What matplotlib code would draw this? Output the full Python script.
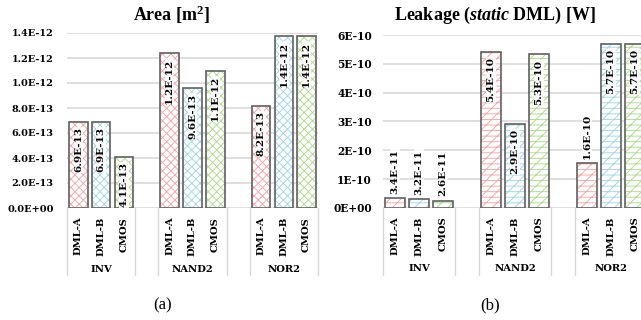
import numpy as np
import matplotlib
matplotlib.use("Agg")
import matplotlib.pyplot as plt
import matplotlib.transforms as mtransforms

# data
groups = ["INV", "NAND2", "NOR2"]
designs = ["DML-A", "DML-B", "CMOS"]
area = [[0.69e-12, 0.69e-12, 0.41e-12],
        [1.24e-12, 0.96e-12, 1.10e-12],
        [0.82e-12, 1.376e-12, 1.376e-12]]
leak = [[0.34e-10, 0.32e-10, 0.26e-10],
        [5.42e-10, 2.92e-10, 5.33e-10],
        [1.56e-10, 5.70e-10, 5.70e-10]]
area_ticks = [0, 0.2e-12, 0.4e-12, 0.6e-12, 0.8e-12, 1.0e-12, 1.2e-12, 1.4e-12]
leak_ticks = [0, 1e-10, 2e-10, 3e-10, 4e-10, 5e-10, 6e-10]

hatch_cols = ["#f7abab", "#a6d8ec", "#b2de93"]
edge_col = "#606060"
grid_col = "#d9d9d9"
plt.rcParams["hatch.linewidth"] = 0.7
plt.rcParams["mathtext.fontset"] = "custom"
plt.rcParams["mathtext.rm"] = "Liberation Serif"
plt.rcParams["mathtext.bf"] = "Liberation Serif:bold"
plt.rcParams["mathtext.it"] = "Liberation Serif:italic"
plt.rcParams["mathtext.bfit"] = "Liberation Serif:italic:bold"

fig = plt.figure(figsize=(6.41, 3.2), dpi=100)


def draw(rect, vals, ticks, tfmt, lfmt, hatch, tick_fs, pad):
    ax = fig.add_axes(rect)
    ymax = ticks[-1]
    for t in ticks:
        ax.axhline(t, color=grid_col, lw=1.2, zorder=0)
    for g in range(3):
        for d in range(3):
            x = g * 4 + d
            v = vals[g][d]
            ax.bar(x, v, width=0.81, color="white", edgecolor=hatch_cols[d],
                   hatch=hatch, linewidth=0, zorder=2)
            ax.bar(x, v, width=0.81, fill=False, edgecolor=edge_col,
                   linewidth=1.2, zorder=3)
            if v / ymax > 0.28:
                off, va = -4, "top"
            else:
                off, va = 3, "bottom"
            ax.annotate(lfmt % v, (x, v), xytext=(0, off), textcoords="offset points",
                        rotation=90, ha="center", va=va, fontsize=7.5,
                        family="DejaVu Serif", weight="bold", zorder=4,
                        bbox=dict(fc="white", ec="none", pad=0.2, alpha=0.85))
    ax.set_xlim(-0.5, 10.5)
    ax.set_ylim(0, ymax)
    ax.set_yticks(ticks)
    ax.set_yticklabels([tfmt % t for t in ticks], family="DejaVu Serif",
                       weight="bold", fontsize=tick_fs)
    ax.tick_params(axis="y", length=0, pad=pad)
    ax.set_xticks([])
    for s in ax.spines.values():
        s.set_visible(False)
    trans = mtransforms.blended_transform_factory(ax.transData, ax.transAxes)
    for xs in [-0.5, 2.5, 3.5, 6.5, 7.5, 10.5]:
        ax.plot([xs, xs], [0, -0.385], color=grid_col, lw=1.0,
                transform=trans, clip_on=False)
    for g in range(3):
        for d in range(3):
            ax.text(g * 4 + d, -0.05, designs[d], transform=trans, rotation=90,
                    ha="center", va="top", fontsize=7.2, family="DejaVu Serif",
                    weight="bold")
        ax.text(g * 4 + 1, -0.35, groups[g], transform=trans, ha="center",
                va="center", fontsize=7.2, family="DejaVu Serif", weight="bold")
    return ax


draw([67 / 641, 112 / 320, 251 / 641, 175 / 320], area, area_ticks,
     "%.1E", "%.1E", "xxxx", 7, 9.5)
draw([383 / 641, 112 / 320, 264 / 641, 173 / 320], leak, leak_ticks,
     "%.0E", "%.1E", "///---", 7.6, 8)

fig.text(171 / 641, 1 - 15 / 320, r"Area [m$^\mathbf{2}$]", ha="center", va="center",
         fontsize=13, family="Liberation Serif", weight="bold")
fig.text(495 / 641, 1 - 15 / 320, r"Leakage ($\mathbfit{static}$ DML) [W]",
         ha="center", va="center", fontsize=13, family="Liberation Serif",
         weight="bold")
fig.text(163 / 641, 1 - 305 / 320, "(a)", ha="center", va="center",
         fontsize=12, family="Liberation Serif")
fig.text(490 / 641, 1 - 305 / 320, "(b)", ha="center", va="center",
         fontsize=12, family="Liberation Serif")

fig.savefig("out.png", dpi=100)
